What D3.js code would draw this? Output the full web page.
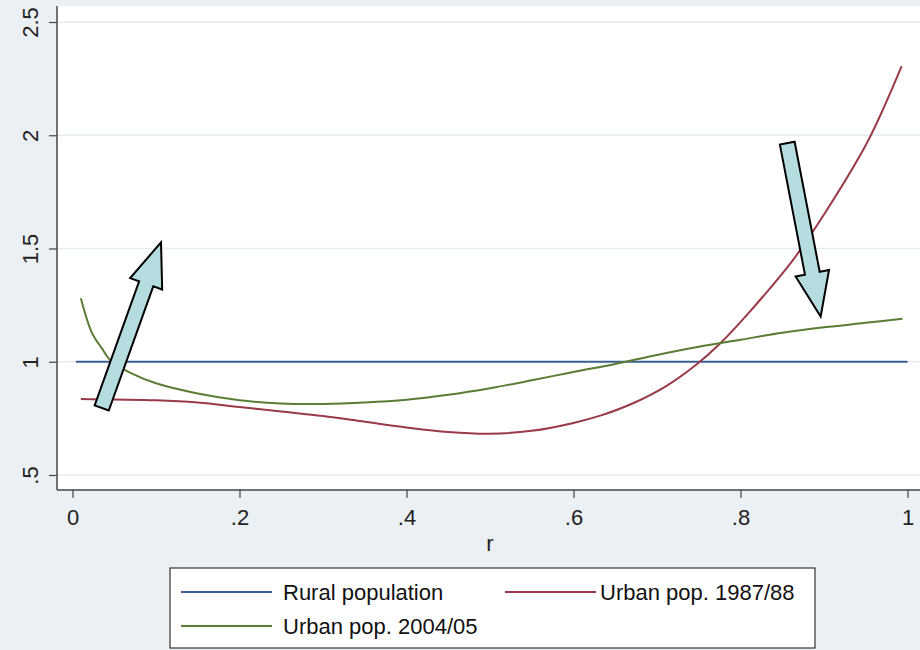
<!DOCTYPE html>
<html><head><meta charset="utf-8">
<script src="https://cdn.jsdelivr.net/npm/d3@7"></script>
<style>body{margin:0;background:#eaf0f3;}svg{display:block;font-family:"Liberation Sans",Arial,sans-serif;}</style>
</head><body><svg id="c" width="920" height="650"></svg>
<script>
const xTicks=[0,0.2,0.4,0.6,0.8,1];
const xTickLabels=["0",".2",".4",".6",".8","1"];
const yTicks=[0.5,1,1.5,2,2.5];
const yTickLabels=[".5","1","1.5","2","2.5"];
const rRural=[0.004,1.0];
const vRural=[1,1];
const rUrban88=[0.01,0.05,0.1,0.15,0.2,0.25,0.3,0.35,0.4,0.45,0.5,0.55,0.6,0.632,0.672,0.712,0.748,0.774,0.812,0.863,0.9,0.952,0.993];
const vUrban88=[0.835,0.833,0.83,0.82,0.80,0.78,0.76,0.735,0.71,0.69,0.682,0.695,0.73,0.762,0.818,0.895,0.99,1.075,1.225,1.45,1.65,1.97,2.305];
const rUrban05=[0.01,0.023,0.035,0.047,0.07,0.1,0.15,0.2,0.25,0.3,0.35,0.4,0.45,0.5,0.55,0.6,0.65,0.7,0.75,0.8,0.85,0.9,0.95,0.994];
const vUrban05=[1.28,1.13,1.06,1.0,0.95,0.905,0.86,0.83,0.816,0.814,0.82,0.832,0.854,0.883,0.918,0.955,0.99,1.03,1.066,1.097,1.128,1.152,1.172,1.19];
const seriesNames=["Rural population","Urban pop. 1987/88","Urban pop. 2004/05"];
const seriesColors=["#3b5f8f","#9a3a48","#5a7d35"];
// annotation arrows in data coordinates: [tail r, tail v, tip r, tip v]
const arrows=[[0.035,0.796,0.106,1.527],[0.856,1.965,0.896,1.20]];

const svg=d3.select("#c");
const x=d3.scaleLinear().domain([0,1]).range([72.5,907.5]);
const y=d3.scaleLinear().domain([0.5,2.5]).range([475,22]);

svg.append("rect").attr("x",57).attr("y",6).attr("width",863).attr("height",484).attr("fill","#ffffff");
svg.append("g").selectAll("line").data(yTicks).join("line")
  .attr("x1",58).attr("x2",920).attr("y1",d=>y(d)).attr("y2",d=>y(d))
  .attr("stroke","#e6edf1").attr("stroke-width",1.5);

const ya=svg.append("g").attr("transform","translate(57,0)")
  .call(d3.axisLeft(y).tickValues(yTicks).tickFormat((d,i)=>yTickLabels[i]).tickSize(8).tickPadding(6));
ya.select(".domain").attr("d","M0,6V490").attr("stroke","#444").attr("stroke-width",1.5);
ya.selectAll(".tick line").attr("stroke","#444").attr("stroke-width",1.2);
ya.selectAll(".tick text").attr("font-size",22).attr("fill","#222")
  .attr("text-anchor","middle").attr("x",0).attr("dy",0)
  .attr("transform","translate(-27,0) rotate(-90)").attr("y",0).attr("dominant-baseline","central");

const xa=svg.append("g").attr("transform","translate(0,490)")
  .call(d3.axisBottom(x).tickValues(xTicks).tickFormat((d,i)=>xTickLabels[i]).tickSize(8).tickPadding(11));
xa.select(".domain").attr("d","M57,0H920").attr("stroke","#444").attr("stroke-width",1.5);
xa.selectAll(".tick line").attr("stroke","#444").attr("stroke-width",1.2);
xa.selectAll(".tick text").attr("font-size",22).attr("fill","#222");

svg.append("text").attr("x",490).attr("y",551).attr("text-anchor","middle").attr("font-size",22).attr("fill","#222").text("r");

const line=d3.line().x(d=>x(d[0])).y(d=>y(d[1])).curve(d3.curveCatmullRom.alpha(0.5));
const series=[d3.zip(rRural,vRural),d3.zip(rUrban88,vUrban88),d3.zip(rUrban05,vUrban05)];
series.forEach((s,i)=>{
  svg.append("path").datum(s).attr("d",line).attr("fill","none")
    .attr("stroke",seriesColors[i]).attr("stroke-width",2);
});

arrows.forEach(a=>{
  const x0=x(a[0]),y0=y(a[1]),x1=x(a[2]),y1=y(a[3]);
  const dx=x1-x0,dy=y1-y0,L=Math.hypot(dx,dy);
  const ux=dx/L,uy=dy/L,px=-uy,py=ux;
  const sw=7.5,hw=17,hl=44;
  const bx=x1-ux*hl,by=y1-uy*hl;
  const pts=[[x0+px*sw,y0+py*sw],[bx+px*sw,by+py*sw],[bx+px*hw,by+py*hw],[x1,y1],
    [bx-px*hw,by-py*hw],[bx-px*sw,by-py*sw],[x0-px*sw,y0-py*sw]];
  svg.append("polygon").attr("points",pts.map(p=>p.join(",")).join(" "))
    .attr("fill","#b5dde0").attr("stroke","#000").attr("stroke-width",2).attr("stroke-linejoin","miter");
});

const lg=svg.append("g");
lg.append("rect").attr("x",170).attr("y",568).attr("width",645).attr("height",80).attr("fill","#fff").attr("stroke","#333").attr("stroke-width",1.2);
const legPos=[[181,592],[505,592],[181,626]];
const legGap=[102,95,102];
seriesNames.forEach((n,i)=>{
  const [lx,ly]=legPos[i];
  lg.append("line").attr("x1",lx).attr("x2",lx+91).attr("y1",ly).attr("y2",ly).attr("stroke",seriesColors[i]).attr("stroke-width",2);
  lg.append("text").attr("x",lx+legGap[i]).attr("y",ly).attr("dominant-baseline","central").attr("font-size",22).attr("fill","#111").text(n);
});
</script></body></html>
